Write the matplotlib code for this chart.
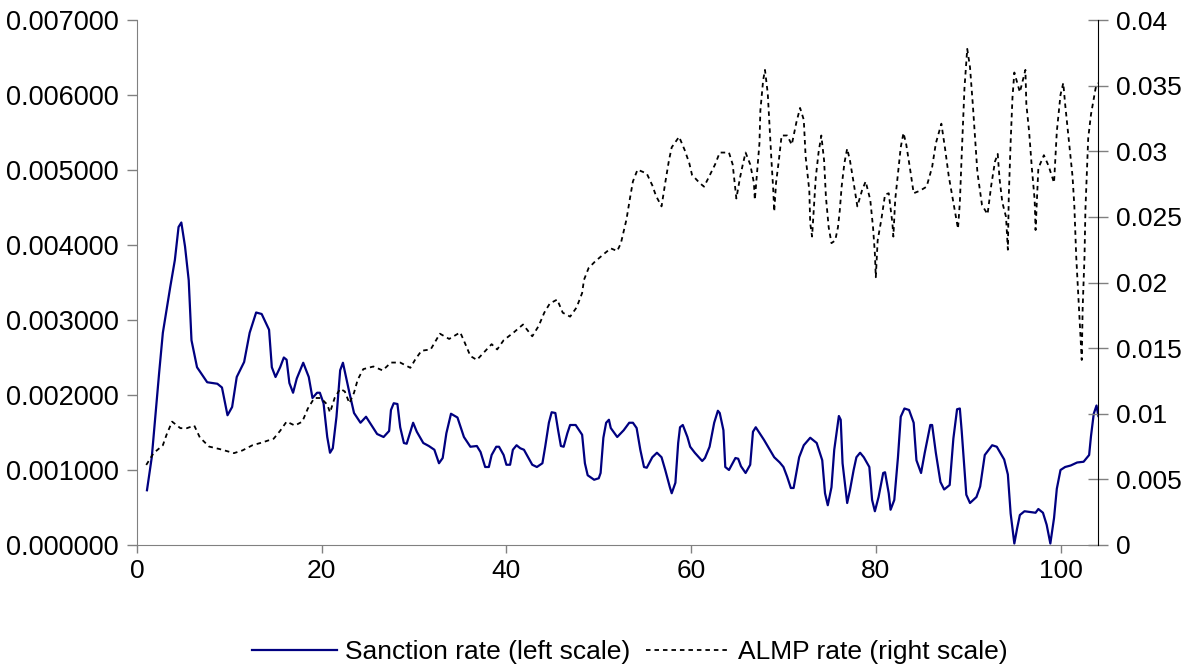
import matplotlib
matplotlib.use("Agg")
import matplotlib.pyplot as plt

plt.rcParams['font.family'] = ['Liberation Sans', 'DejaVu Sans']

# sanction rate (left scale)
sanc_x = [1.08, 1.6, 2.4, 2.8, 3.6, 4.1, 4.5, 4.8, 5.2, 5.6, 5.9, 6.5, 7.6, 8.7, 9.2, 9.8,
          10.3, 10.8, 11.6, 12.2, 12.9, 13.5, 14.3, 14.6, 15.0, 15.5, 15.9, 16.2, 16.5, 16.9,
          17.3, 18.0, 18.6, 19.0, 19.5, 19.8, 20.2, 20.6, 20.9, 21.2, 21.6, 22.0, 22.3, 22.7,
          23.0, 23.5, 24.2, 24.8, 26.0, 26.7, 27.3, 27.5, 27.8, 28.2, 28.5, 28.9, 29.2, 29.9,
          30.3, 31.0, 31.6, 32.2, 32.7, 33.1, 33.5, 34.0, 34.7, 35.4, 36.1, 36.8, 37.2, 37.7,
          38.1, 38.4, 38.9, 39.2, 39.7, 40.0, 40.4, 40.7, 41.1, 41.5, 41.9, 42.8, 43.3, 43.9,
          44.2, 44.6, 44.9, 45.3, 45.6, 45.9, 46.2, 46.6, 46.9, 47.5, 48.2, 48.5, 48.8, 49.5,
          50.0, 50.2, 50.5, 50.8, 51.1, 51.3, 52.0, 52.7, 53.3, 53.7, 54.1, 54.5, 54.9, 55.2,
          55.8, 56.3, 56.8, 57.2, 57.7, 57.9, 58.3, 58.6, 58.8, 59.1, 59.6, 59.9, 60.4, 61.2,
          61.5, 62.0, 62.5, 62.9, 63.1, 63.5, 63.7, 64.1, 64.8, 65.1, 65.4, 65.9, 66.4, 66.7,
          67.0, 67.9, 69.0, 69.6, 70.0, 70.4, 70.8, 71.1, 71.7, 72.2, 72.9, 73.6, 74.2, 74.5,
          74.8, 75.2, 75.5, 75.9, 76.0, 76.2, 76.4, 76.9, 77.2, 77.6, 77.9, 78.3, 78.7, 79.3,
          79.6, 79.9, 80.3, 80.8, 81.0, 81.4, 81.6, 82.0, 82.4, 82.7, 83.1, 83.6, 84.1, 84.4,
          84.9, 85.3, 85.9, 86.1, 86.5, 87.0, 87.4, 88.0, 88.4, 88.8, 89.1, 89.3, 89.8, 90.2,
          90.9, 91.3, 91.8, 92.6, 93.1, 93.9, 94.3, 94.6, 95.0, 95.3, 95.6, 96.1, 96.7, 97.3,
          97.6, 98.1, 98.5, 98.9, 99.3, 99.6, 100.0, 100.5, 101.1, 101.8, 102.5, 103.1, 103.3,
          103.6, 103.9, 104.1]
sanc_y = [0.73, 1.17, 2.30, 2.83, 3.44, 3.80, 4.24, 4.30, 3.98, 3.53, 2.73, 2.37, 2.17, 2.15,
          2.10, 1.73, 1.84, 2.24, 2.44, 2.83, 3.10, 3.08, 2.87, 2.37, 2.24, 2.37, 2.50, 2.47,
          2.16, 2.03, 2.22, 2.43, 2.24, 1.96, 2.03, 2.03, 1.89, 1.44, 1.23, 1.29, 1.71, 2.33,
          2.43, 2.20, 2.03, 1.76, 1.63, 1.71, 1.48, 1.44, 1.52, 1.80, 1.89, 1.88, 1.57, 1.36,
          1.35, 1.63, 1.51, 1.36, 1.32, 1.27, 1.09, 1.16, 1.49, 1.75, 1.70, 1.44, 1.31, 1.32,
          1.24, 1.04, 1.04, 1.20, 1.31, 1.31, 1.20, 1.07, 1.07, 1.27, 1.33, 1.29, 1.27, 1.07,
          1.04, 1.09, 1.31, 1.63, 1.77, 1.76, 1.53, 1.32, 1.31, 1.49, 1.60, 1.60, 1.47, 1.09,
          0.93, 0.87, 0.89, 0.96, 1.43, 1.63, 1.67, 1.56, 1.44, 1.53, 1.63, 1.63, 1.56, 1.27,
          1.04, 1.03, 1.17, 1.23, 1.17, 1.00, 0.77, 0.69, 0.83, 1.36, 1.57, 1.60, 1.44, 1.31,
          1.23, 1.12, 1.16, 1.31, 1.63, 1.79, 1.76, 1.53, 1.04, 1.00, 1.16, 1.15, 1.05, 0.96,
          1.07, 1.51, 1.57, 1.40, 1.17, 1.10, 1.04, 0.91, 0.76, 0.76, 1.17, 1.33, 1.43, 1.36,
          1.13, 0.69, 0.53, 0.77, 1.27, 1.63, 1.72, 1.67, 1.09, 0.56, 0.73, 1.00, 1.17, 1.23,
          1.17, 1.04, 0.60, 0.45, 0.64, 0.96, 0.97, 0.69, 0.47, 0.60, 1.17, 1.71, 1.82, 1.80,
          1.63, 1.13, 0.96, 1.23, 1.60, 1.60, 1.23, 0.84, 0.74, 0.80, 1.42, 1.81, 1.82, 1.52,
          0.67, 0.56, 0.64, 0.78, 1.20, 1.33, 1.31, 1.14, 0.94, 0.42, 0.02, 0.22, 0.40, 0.45,
          0.44, 0.43, 0.48, 0.43, 0.27, 0.02, 0.36, 0.75, 1.00, 1.04, 1.06, 1.10, 1.11, 1.20,
          1.45, 1.75, 1.86, 1.72]
sanc_y = [v / 1000 for v in sanc_y]

# ALMP rate (right scale)
almp_x = [1.0, 1.8, 2.8, 3.2, 3.8, 4.7, 5.4, 6.2, 6.8, 7.8, 9.0, 10.5, 11.4, 12.5, 13.5, 14.8,
          15.5, 16.2, 17.1, 17.9, 18.5, 19.2, 19.9, 20.6, 20.9, 21.4, 22.0, 22.5, 23.0, 23.5,
          23.9, 24.5, 25.6, 26.6, 27.5, 28.5, 29.6, 30.1, 30.8, 31.8, 32.8, 33.8, 35.0, 35.5,
          36.1, 36.8, 37.6, 38.4, 39.0, 39.7, 40.8, 41.8, 42.8, 43.5, 44.1, 44.7, 45.5, 46.1,
          46.9, 47.6, 48.2, 48.4, 48.9, 49.6, 50.6, 51.3, 52.0, 52.4, 53.0, 53.4, 53.7, 54.2,
          55.2, 55.8, 56.2, 56.8, 57.2, 57.6, 57.9, 58.7, 59.3, 59.8, 60.1, 60.9, 61.4, 61.9,
          62.6, 63.1, 64.1, 64.5, 64.9, 65.3, 65.6, 65.9, 66.4, 66.8, 66.9, 67.1, 67.4, 67.5,
          67.8, 68.0, 68.3, 68.5, 68.7, 68.9, 69.0, 69.2, 69.5, 69.8, 70.4, 70.9, 71.4, 71.8,
          72.2, 72.4, 72.8, 72.9, 73.1, 73.3, 73.5, 73.8, 74.1, 74.4, 74.6, 74.9, 75.2, 75.6,
          75.9, 76.1, 76.3, 76.6, 76.9, 77.2, 77.6, 78.0, 78.5, 78.9, 79.4, 79.7, 79.9, 80.0,
          80.2, 80.6, 81.0, 81.4, 81.8, 81.9, 82.1, 82.4, 82.7, 83.0, 83.3, 83.7, 84.1, 84.8,
          85.5, 86.1, 86.5, 87.1, 87.5, 87.9, 88.4, 88.9, 89.1, 89.3, 89.6, 89.9, 90.2, 90.5,
          90.7, 91.0, 91.5, 92.1, 92.5, 92.9, 93.2, 93.4, 93.7, 94.1, 94.3, 94.4, 94.6, 94.8,
          95.0, 95.6, 96.2, 96.3, 96.6, 96.9, 97.2, 97.3, 97.6, 98.2, 98.7, 99.3, 99.6, 100.0,
          100.3, 100.5, 101.0, 101.3, 101.5, 101.7, 102.0, 102.2, 102.3, 102.4, 102.6, 102.7,
          103.0, 103.3, 103.8, 104.1]
almp_y = [0.0061, 0.0070, 0.0076, 0.0084, 0.0094, 0.0089, 0.0089, 0.0091, 0.0082, 0.0075,
          0.0073, 0.0070, 0.0072, 0.0076, 0.0078, 0.0081, 0.0087, 0.0094, 0.0091, 0.0094,
          0.0104, 0.0112, 0.0112, 0.0107, 0.0101, 0.0112, 0.0119, 0.0117, 0.0108, 0.0116,
          0.0126, 0.0134, 0.0136, 0.0133, 0.0139, 0.0139, 0.0135, 0.0141, 0.0148, 0.0149,
          0.0161, 0.0157, 0.0162, 0.0154, 0.0144, 0.0141, 0.0147, 0.0153, 0.0149, 0.0156,
          0.0162, 0.0168, 0.0159, 0.0167, 0.0177, 0.0184, 0.0187, 0.0177, 0.0174, 0.0181,
          0.0192, 0.0202, 0.0211, 0.0216, 0.0222, 0.0226, 0.0224, 0.0230, 0.0248, 0.0265,
          0.0277, 0.0286, 0.0283, 0.0274, 0.0266, 0.0258, 0.0276, 0.0293, 0.0303, 0.0311,
          0.0301, 0.0291, 0.0282, 0.0276, 0.0273, 0.0280, 0.0290, 0.0299, 0.0299, 0.0290,
          0.0264, 0.0280, 0.0290, 0.0299, 0.0290, 0.0276, 0.0263, 0.0280, 0.0306, 0.0331,
          0.0354, 0.0362, 0.0344, 0.0318, 0.0293, 0.0270, 0.0254, 0.0276, 0.0293, 0.0312,
          0.0312, 0.0305, 0.0322, 0.0333, 0.0324, 0.0296, 0.0270, 0.0245, 0.0235, 0.0258,
          0.0280, 0.0299, 0.0312, 0.0293, 0.0265, 0.0242, 0.0230, 0.0232, 0.0242, 0.0255,
          0.0273, 0.0291, 0.0302, 0.0293, 0.0276, 0.0258, 0.0270, 0.0277, 0.0263, 0.0242,
          0.0222, 0.0204, 0.0232, 0.0248, 0.0267, 0.0268, 0.0245, 0.0235, 0.0263, 0.0283,
          0.0303, 0.0314, 0.0305, 0.0287, 0.0268, 0.0270, 0.0273, 0.0288, 0.0306, 0.0321,
          0.0302, 0.0281, 0.0261, 0.0241, 0.0261, 0.0297, 0.0348, 0.0378, 0.0364, 0.0336,
          0.0315, 0.0284, 0.0259, 0.0252, 0.0274, 0.0292, 0.0298, 0.0279, 0.0261, 0.0250,
          0.0225, 0.0266, 0.0307, 0.0341, 0.0360, 0.0345, 0.0362, 0.0336, 0.0315, 0.0287,
          0.0263, 0.0240, 0.0287, 0.0297, 0.0289, 0.0276, 0.0315, 0.0343, 0.0352, 0.0336,
          0.0302, 0.0281, 0.0258, 0.0220, 0.0181, 0.0155, 0.0141, 0.0181, 0.0220, 0.0256,
          0.0310, 0.0328, 0.0348, 0.0352]

left_ticks = [0, 0.001, 0.002, 0.003, 0.004, 0.005, 0.006, 0.007]
right_ticks = [0, 0.005, 0.01, 0.015, 0.02, 0.025, 0.03, 0.035, 0.04]
x_ticks = [0, 20, 40, 60, 80, 100]

fig = plt.figure(figsize=(11.9, 6.66), dpi=100)
ax = fig.add_axes([137/1190, 1 - 545/666, (1098-137)/1190, (545-20)/666])
ax2 = ax.twinx()

l1, = ax.plot(sanc_x, sanc_y, color='#000080', lw=1.6, label='Sanction rate (left scale)')
l2, = ax2.plot(almp_x, almp_y, color='black', lw=1.3, linestyle=(0, (2.5, 2.2)),
               label='ALMP rate (right scale)')

ax.set_xlim(0, 104.06)
ax.set_ylim(0, 0.007)
ax2.set_ylim(0, 0.04)
ax.set_xticks(x_ticks)
ax.set_yticks(left_ticks)
ax.set_yticklabels([f'{v:.6f}' for v in left_ticks])
ax2.set_yticks(right_ticks)
ax2.set_yticklabels(['0', '0.005', '0.01', '0.015', '0.02', '0.025', '0.03', '0.035', '0.04'])

for a in (ax, ax2):
    a.spines['top'].set_visible(False)
ax.spines['right'].set_visible(False)
ax.spines['left'].set_color('#808080')
ax.spines['bottom'].set_color('#808080')
ax2.spines['left'].set_visible(False)
ax2.spines['bottom'].set_visible(False)
ax2.spines['right'].set_color('black')

ax.tick_params(axis='y', length=7, width=1, color='#808080', labelsize=19.5, pad=6)
ax.tick_params(axis='x', length=6, width=1, color='#808080', labelsize=19, pad=4)
ax2.tick_params(axis='y', direction='inout', length=14, width=1, color='#808080',
                labelsize=19, pad=6)

fig.legend(handles=[l1, l2], loc='center', bbox_to_anchor=(630/1190, 1 - 652/666),
           ncol=2, frameon=False, fontsize=19, handlelength=3.2, handletextpad=0.3,
           columnspacing=0.6)

fig.savefig('out.png', dpi=100)
